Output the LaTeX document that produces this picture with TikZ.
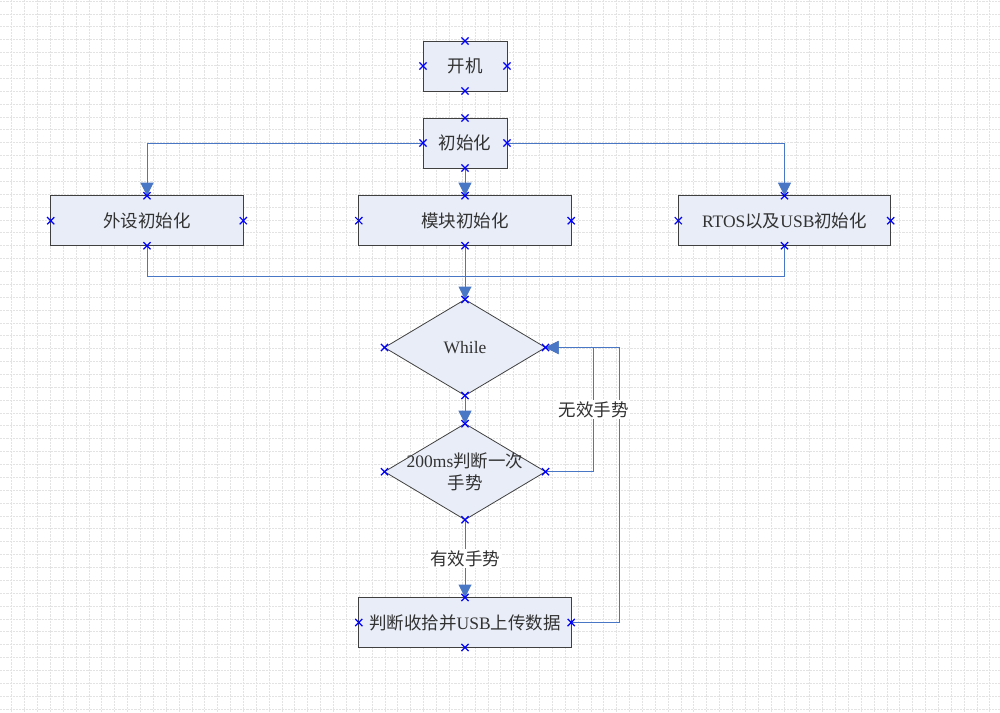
\documentclass[tikz,border=0pt]{standalone}
\usepackage{fontspec}
\setmainfont{Liberation Serif}
\newfontfamily\cjk{Noto Sans CJK SC}
\usetikzlibrary{arrows.meta, shapes.geometric, shapes.misc}
\definecolor{boxfill}{RGB}{232,237,247}
\definecolor{linkblue}{RGB}{74,118,198}
\definecolor{txtgray}{RGB}{50,50,50}

\begin{document}
\begin{tikzpicture}[x=1pt, y=-1pt,
  font=\fontsize{17.5}{22}\selectfont,
  proc/.style={rectangle, draw=black!75, fill=boxfill, line width=0.8pt, text=txtgray, inner sep=0pt, outer sep=0pt, minimum height=50pt},
  decide/.style={diamond, draw=black!75, fill=boxfill, line width=0.8pt, inner sep=0pt, outer sep=0pt, minimum width=161pt, minimum height=96pt},
  dtext/.style={text=txtgray, align=center, inner sep=0pt},
  wire/.style={draw=linkblue, line width=1pt},
  link/.style={wire, -{Triangle[length=13pt,width=13pt]}},
  lbl/.style={fill=white, text=txtgray, inner sep=1.5pt},
  xpt/.style={cross out, draw=blue, line width=1.2pt, minimum size=6pt, inner sep=0pt},
  gridln/.style={gray!22, line width=0.7pt, dash pattern=on 2.2pt off 1pt}]
  \useasboundingbox (0,0) rectangle (1000,712);
  \fill[white] (0,0) rectangle (1000,712);
  % background grid
  \foreach \k in {0,...,76}
    \draw[gridln] ({11.7+12.87*\k},0) -- ({11.7+12.87*\k},712);
  \foreach \k in {0,...,55}
    \draw[gridln] (0,{1.1+12.87*\k}) -- (1000,{1.1+12.87*\k});

  % boxes
  \node[proc, minimum width=84pt] (boot) at (465,66) {\cjk 开机};
  \node[proc, minimum width=84pt] (init) at (465,143) {\cjk 初始化};
  \node[proc, minimum width=192.6pt] (periph) at (147,220.7) {\cjk 外设初始化};
  \node[proc, minimum width=212.4pt] (module) at (465,220.7) {\cjk 模块初始化};
  \node[proc, minimum width=212.4pt] (rtos) at (784.5,220.7) {RTOS{\cjk 以及}USB{\cjk 初始化}};
  \node[decide] (loop) at (465,347.5) {};
  \node[dtext] (loop-t) at (loop) {While};
  \node[decide] (check) at (465,471.7) {};
  \node[dtext] (check-t) at (check) {200ms{\cjk 判断一次}\\{\cjk 手势}};
  \node[proc, minimum width=212.4pt] (upload) at (465,622.5) {{\cjk 判断收拾并}USB{\cjk 上传数据}};

  % connectors
  \coordinate (merge) at (465,276);
  \draw[link] (init.west) -| (periph.north);
  \draw[link] (init.south) -- (module.north);
  \draw[link] (init.east) -| (rtos.north);
  \draw[wire] (periph.south) |- (merge);
  \draw[wire] (rtos.south) |- (merge);
  \draw[link] (module.south) -- (loop.north);
  \draw[link] (loop.south) -- (check.north);
  \draw[link] (upload.east) -- ++(48,0) |- (loop.east);
  \draw[link] (check.east) -- ++(48,0) |- (loop.east) node[lbl, pos=0.25] (invalid) {\cjk 无效手势};
  \draw[link] (check.south) -- (upload.north) node[lbl, midway] (valid) {\cjk 有效手势};

  % connection points
  \foreach \n in {boot,init,periph,module,rtos,loop,check,upload}
    \foreach \a in {north,south,east,west}
      \node[xpt] (\n-\a-x) at (\n.\a) {};
\end{tikzpicture}
\end{document}
